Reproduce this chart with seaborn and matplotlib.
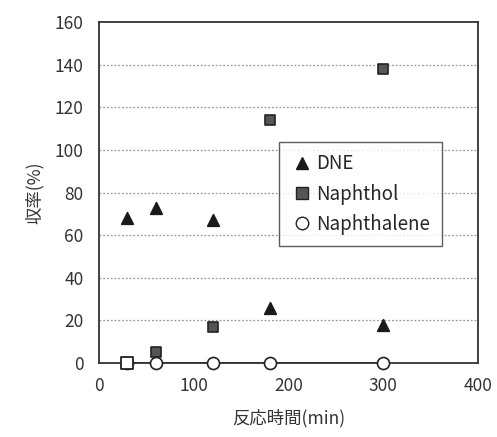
import pandas as pd
import numpy as np
import matplotlib.pyplot as plt
import seaborn as sns

# reaction time (min) and yields (%)
time_min = [30, 60, 120, 180, 300]
dne = [68, 72.5, 67, 26, 18]
naphthol = [0, 5, 17, 114, 138]
naphthalene = [0, 0, 0, 0, 0]

series_names = ['DNE', 'Naphthol', 'Naphthalene']

df = pd.DataFrame({
    'time': time_min * 3,
    'yield': dne + naphthol + naphthalene,
    'compound': ['DNE'] * 5 + ['Naphthol'] * 5 + ['Naphthalene'] * 5,
})

sns.set_style('white')
plt.rcParams['font.family'] = ['Noto Sans CJK JP', 'DejaVu Sans']

fig = plt.figure(figsize=(4.97, 4.37), dpi=100)
ax = fig.add_axes([99 / 497, 1 - 363 / 437, 379 / 497, 341 / 437])

# naphthalene line along the baseline
ax.plot(time_min, naphthalene, color='#222222', lw=1.4, zorder=2)

styles = {
    'DNE': dict(marker='^', s=70, facecolor='#1a1a1a', edgecolor='#1a1a1a'),
    'Naphthol': dict(marker='s', s=60, facecolor='#555555', edgecolor='#222222'),
    'Naphthalene': dict(marker='o', s=75, facecolor='white', edgecolor='#222222'),
}
for name in ['Naphthol', 'DNE', 'Naphthalene']:
    sub = df[df['compound'] == name]
    st = styles[name]
    sns.scatterplot(data=sub, x='time', y='yield', ax=ax, marker=st['marker'],
                    s=st['s'], color=st['facecolor'], edgecolor=st['edgecolor'],
                    linewidth=1.2, label=name, zorder=3, legend=False)
# open square at t=30 (naphthol baseline)
ax.scatter([time_min[0]], [naphthol[0]], marker='s', s=80, facecolor='white',
           edgecolor='#222222', linewidth=1.3, zorder=4)
for c in ax.collections:
    c.set_clip_on(False)

ax.set_xlim(0, 400)
ax.set_ylim(0, 160)
ax.set_xticks(np.arange(0, 401, 100))
ax.set_yticks(np.arange(0, 161, 20))
for y in range(20, 160, 20):
    ax.axhline(y, color='#999999', lw=0.9, ls=(0, (1.5, 1.5)), zorder=1)
for s in ax.spines.values():
    s.set_color('#333333')
    s.set_linewidth(1.3)
ax.tick_params(axis='both', direction='in', length=4, labelsize=12.5,
               colors='#333333', pad=10)
ax.tick_params(axis='y', direction='out', length=3, pad=8)

ax.set_xlabel('反応時間(min)', fontsize=12.5, color='#333333', labelpad=10)
ax.set_ylabel('収率(%)', fontsize=12.5, color='#333333', labelpad=8)

handles = [
    plt.Line2D([], [], ls='none', marker='^', markersize=9, color='#1a1a1a'),
    plt.Line2D([], [], ls='none', marker='s', markersize=8, markerfacecolor='#555555',
               markeredgecolor='#222222'),
    plt.Line2D([], [], ls='none', marker='o', markersize=9, markerfacecolor='white',
               markeredgecolor='#222222'),
]
leg = ax.legend(handles, series_names, loc='upper left',
                bbox_to_anchor=((279 - 99) / 379, (363 - 142) / 341),
                frameon=True, fancybox=False, edgecolor='#333333',
                fontsize=13.5, handletextpad=0.1, handlelength=1.3,
                borderpad=0.6, labelspacing=0.5, borderaxespad=0)
leg.get_frame().set_linewidth(1.0)

fig.savefig('out.png', dpi=100)
